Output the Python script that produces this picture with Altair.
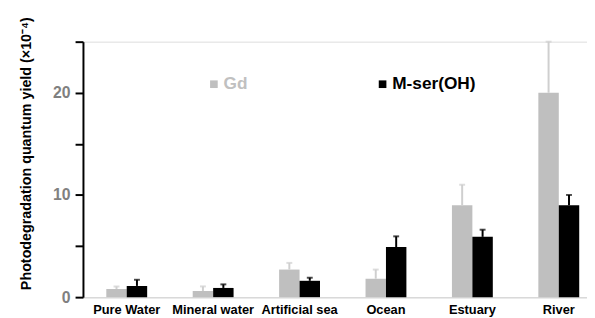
import altair as alt
import pandas as pd

categories = ["Pure Water", "Mineral water", "Artificial sea", "Ocean", "Estuary", "River"]
series = ["Gd", "M-ser(OH)"]
gd_values = [0.8, 0.6, 2.7, 1.8, 9.0, 20.0]
gd_errors = [0.25, 0.45, 0.65, 0.9, 2.0, 5.0]
mser_values = [1.1, 0.9, 1.6, 4.9, 5.9, 9.0]
mser_errors = [0.6, 0.35, 0.3, 1.05, 0.7, 1.0]
colors = ["#bfbfbf", "#000000"]
err_colors = ["#cfcfcf", "#000000"]

rows = []
for c, v, e in zip(categories, gd_values, gd_errors):
    rows.append({"cat": c, "series": "Gd", "value": v, "top": v + e})
for c, v, e in zip(categories, mser_values, mser_errors):
    rows.append({"cat": c, "series": "M-ser(OH)", "value": v, "top": v + e})
df = pd.DataFrame(rows)

FONT = "Liberation Sans"
W, H = 511, 259

x_enc = alt.X(
    "cat:N",
    sort=categories,
    scale=alt.Scale(paddingInner=0.527, paddingOuter=0.18, align=0.75),
    axis=alt.Axis(
        title=None,
        labelAngle=0,
        labelFont=FONT,
        labelFontSize=13,
        labelFontWeight="bold",
        labelColor="#000000",
        labelPadding=7,
        ticks=False,
        domainColor="#d9d9d9",
        domainWidth=1.5,
        grid=False,
    ),
)
xoff = alt.XOffset("series:N", sort=series, scale=alt.Scale(domain=series, paddingInner=0, paddingOuter=0))
y_scale = alt.Scale(domain=[0, 25], nice=False)

bars = alt.Chart(df).mark_bar().encode(
    x=x_enc,
    xOffset=xoff,
    y=alt.Y(
        "value:Q",
        scale=y_scale,
        axis=alt.Axis(
            title="Photodegradation quantum yield (×10⁻⁴)",
            titleFont=FONT,
            titleFontSize=14.5,
            titleFontWeight="bold",
            titleColor="#000000",
            titleX=-50,
            titleY=113,
            titleBaseline="bottom",
            values=[0, 5, 10, 15, 20, 25],
            labelExpr="datum.value % 10 == 0 && datum.value < 25 ? datum.label : ''",
            labelFont=FONT,
            labelFontSize=16,
            labelFontWeight="bold",
            labelColor="#808080",
            labelPadding=5,
            tickSize=8,
            tickWidth=2,
            tickColor="#000000",
            domainColor="#000000",
            domainWidth=2,
            grid=False,
        ),
    ),
    color=alt.Color(
        "series:N",
        scale=alt.Scale(domain=series, range=colors),
        legend=alt.Legend(
            title=None,
            orient="none",
            direction="horizontal",
            legendX=124,
            legendY=34,
            symbolType="square",
            symbolSize=60,
            symbolStrokeWidth=0,
            labelFont=FONT,
            labelFontSize=17.5,
            labelFontWeight="bold",
            labelOffset=1,
            columnPadding=128,
            labelColor=alt.ExprRef("datum.label == 'Gd' ? '#c0c0c0' : '#000000'"),
        ),
    ),
)

err = alt.Chart(df).mark_rule(strokeWidth=2).encode(
    x=alt.X("cat:N", sort=categories),
    xOffset=xoff,
    y=alt.Y("value:Q", scale=y_scale),
    y2="top:Q",
    color=alt.Color("series:N", scale=alt.Scale(domain=series, range=err_colors), legend=None),
)

caps = alt.Chart(df).mark_tick(orient="horizontal", size=6, thickness=2).encode(
    x=alt.X("cat:N", sort=categories),
    xOffset=xoff,
    y=alt.Y("top:Q", scale=y_scale),
    color=alt.Color("series:N", scale=alt.Scale(domain=series, range=err_colors), legend=None),
)

chart = (
    alt.layer(bars, err, caps)
    .resolve_scale(color="independent")
    .properties(
        width=W,
        height=H,
        autosize=alt.AutoSizeParams(type="none"),
        padding={"left": 76, "top": 32, "right": 0, "bottom": 19},
    )
    .configure_view(stroke=None)
    .configure(background="white")
)

chart.save("out.html", embed_options={"renderer": "svg", "actions": False})
